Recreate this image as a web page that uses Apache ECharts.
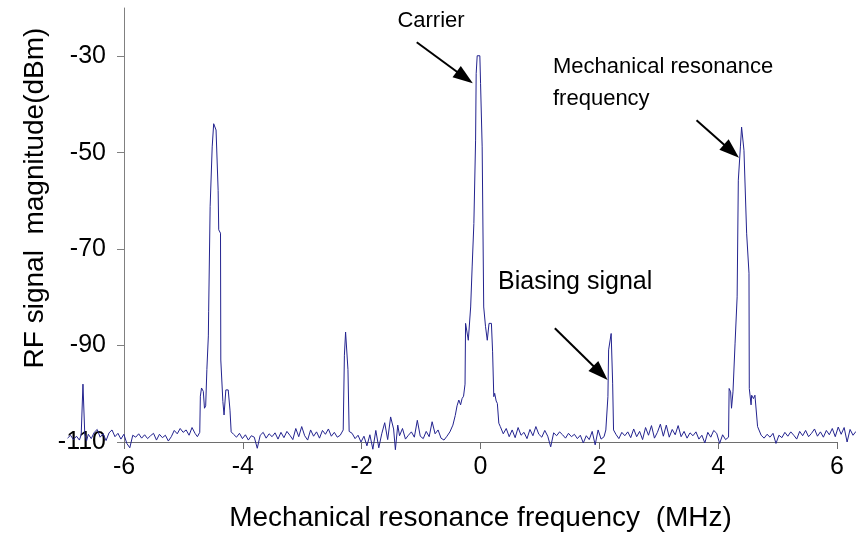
<!DOCTYPE html>
<html>
<head>
<meta charset="utf-8">
<script src="https://cdn.jsdelivr.net/npm/echarts@6/dist/echarts.min.js"></script>
<style>html,body{margin:0;padding:0;background:#fff;}#c{width:856px;height:555px;}</style>
</head>
<body>
<div id="c"></div>
<script>
// ---- data: [frequency (MHz), level (dBm)] ----
const noiseFarLeft = [[-6.95,-109.2],[-6.90,-108.6],[-6.85,-109.5],[-6.80,-108.8],[-6.75,-109.6],[-6.72,-108.5],[-6.69,-98],[-6.66,-108.2],[-6.63,-109.8],[-6.60,-108.4],[-6.55,-109.3],[-6.50,-108.0],[-6.45,-107.4],[-6.40,-109.0],[-6.35,-108.3],[-6.30,-109.7],[-6.25,-108.1],[-6.20,-107.5],[-6.15,-108.9],[-6.10,-108.2],[-6.05,-109.4],[-6.00,-108.4],[-5.95,-110.3],[-5.90,-111.2],[-5.85,-108.6],[-5.80,-109.0],[-5.75,-108.3],[-5.70,-109.2],[-5.65,-108.5],[-5.60,-109.3],[-5.55,-108.7],[-5.50,-108.2],[-5.45,-109.6],[-5.40,-108.4],[-5.35,-109.1],[-5.30,-108.6],[-5.25,-109.8],[-5.20,-108.9],[-5.15,-107.6],[-5.10,-108.3],[-5.05,-107.2],[-5.00,-108.0],[-4.95,-107.5],[-4.90,-108.6],[-4.85,-107.0],[-4.80,-108.2],[-4.76,-108.9]];
const peakLeftMech = [[-4.72,-108.0],[-4.71,-100.5],[-4.69,-98.8],[-4.66,-99.5],[-4.64,-103],[-4.62,-102.5],[-4.60,-95],[-4.575,-88],[-4.57,-83],[-4.545,-61.2],[-4.51,-48.8],[-4.485,-44],[-4.445,-45.3],[-4.41,-57.8],[-4.40,-66],[-4.37,-66.7],[-4.365,-93],[-4.33,-101.6],[-4.31,-104.4],[-4.28,-99.2],[-4.24,-99.2],[-4.21,-103.4],[-4.19,-107.9]];
const noiseLeft = [[-4.15,-108.4],[-4.10,-109.0],[-4.05,-108.2],[-4.00,-109.3],[-3.95,-108.5],[-3.90,-109.6],[-3.85,-108.7],[-3.80,-109.0],[-3.75,-111.3],[-3.70,-108.6],[-3.65,-108.0],[-3.60,-109.2],[-3.55,-108.3],[-3.50,-108.9],[-3.45,-108.1],[-3.40,-109.4],[-3.35,-108.0],[-3.30,-109.1],[-3.25,-107.8],[-3.20,-108.6],[-3.15,-109.5],[-3.10,-107.2],[-3.05,-108.9],[-3.00,-106.8],[-2.95,-108.7],[-2.90,-109.6],[-2.85,-107.5],[-2.80,-108.8],[-2.75,-107.9],[-2.70,-109.2],[-2.65,-107.6],[-2.60,-108.4],[-2.55,-107.3],[-2.50,-108.8],[-2.45,-108.0],[-2.40,-109.0],[-2.35,-108.6]];
const peakLeftBias = [[-2.30,-107.5],[-2.28,-92],[-2.26,-87.2],[-2.24,-87.5],[-2.22,-95],[-2.20,-107.8]];
const noiseMidLeft = [[-2.15,-108.2],[-2.10,-109.3],[-2.05,-108.6],[-2.00,-110.0],[-1.95,-108.8],[-1.90,-110.8],[-1.85,-108.5],[-1.80,-111.5],[-1.75,-107.6],[-1.70,-111.2],[-1.65,-108.3],[-1.60,-106.0],[-1.55,-109.5],[-1.50,-104.8],[-1.45,-107.3],[-1.42,-111.6],[-1.38,-106.5],[-1.35,-108.7],[-1.30,-107.2],[-1.25,-109.4],[-1.20,-108.6],[-1.15,-107.9],[-1.10,-109.0],[-1.05,-105.5],[-1.00,-108.8],[-0.95,-109.3],[-0.90,-107.8],[-0.85,-108.9],[-0.80,-105.8],[-0.75,-108.3],[-0.70,-107.5],[-0.65,-109.2],[-0.60,-109.6],[-0.55,-108.8],[-0.50,-107.9],[-0.45,-106.5]];
const peakCarrier = [[-0.41,-104.5],[-0.38,-102.5],[-0.35,-101.3],[-0.32,-102.3],[-0.295,-101],[-0.27,-100.5],[-0.245,-98],[-0.236,-85.4],[-0.21,-85],[-0.19,-88.9],[-0.17,-89],[-0.15,-82],[-0.125,-73.7],[-0.096,-64.7],[-0.067,-47.4],[-0.057,-33.6],[-0.04,-29.9],[0.005,-29.9],[0.017,-35.7],[0.044,-48.8],[0.07,-82],[0.10,-86],[0.13,-88.9],[0.16,-85.4],[0.20,-85.4],[0.22,-91.3],[0.24,-100.6],[0.255,-99.9],[0.28,-101.5],[0.30,-102],[0.325,-106.1]];
const noiseMidRight = [[0.35,-106.8],[0.40,-108.3],[0.45,-107.2],[0.50,-108.9],[0.55,-107.5],[0.60,-109.1],[0.65,-107.0],[0.70,-108.6],[0.75,-108.0],[0.80,-109.3],[0.85,-107.4],[0.90,-108.7],[0.95,-106.8],[1.00,-108.4],[1.05,-109.0],[1.10,-107.6],[1.15,-108.8],[1.20,-111.0],[1.25,-108.1],[1.30,-108.7],[1.35,-107.9],[1.40,-108.5],[1.45,-109.2],[1.50,-108.2],[1.55,-108.9],[1.60,-108.4],[1.65,-109.3],[1.70,-108.6],[1.75,-110.2],[1.80,-108.7],[1.85,-109.5],[1.90,-107.8],[1.95,-110.6],[2.00,-107.5],[2.05,-109.4],[2.10,-108.9]];
const peakRightBias = [[2.13,-107.5],[2.165,-100.6],[2.177,-90.9],[2.22,-87.5],[2.245,-97.8],[2.26,-107.5]];
const noiseRight = [[2.30,-108.4],[2.35,-109.3],[2.40,-108.0],[2.45,-108.7],[2.50,-107.9],[2.55,-109.1],[2.60,-107.3],[2.65,-108.9],[2.70,-107.8],[2.75,-109.5],[2.80,-107.0],[2.85,-108.6],[2.90,-106.6],[2.95,-109.2],[3.00,-108.0],[3.05,-106.3],[3.10,-108.8],[3.15,-106.5],[3.20,-109.0],[3.25,-107.4],[3.30,-108.5],[3.35,-106.6],[3.40,-108.9],[3.45,-107.8],[3.50,-109.2],[3.55,-108.1],[3.60,-108.7],[3.65,-107.9],[3.70,-109.4],[3.75,-108.6],[3.80,-110.2],[3.85,-108.0],[3.90,-109.0],[3.95,-107.6],[4.00,-108.2],[4.05,-110.3],[4.10,-108.5],[4.15,-109.5],[4.20,-109.0]];
const peakRightMech = [[4.21,-98.9],[4.235,-99.6],[4.25,-103],[4.275,-99.6],[4.31,-89.5],[4.345,-79.9],[4.365,-55.7],[4.40,-48.8],[4.42,-44.7],[4.45,-44.7],[4.46,-49.5],[4.505,-66.7],[4.545,-75],[4.55,-98.9],[4.58,-102.3],[4.59,-100.3],[4.62,-101],[4.645,-100.3],[4.69,-106.8]];
const noiseFarRight = [[4.75,-108.6],[4.80,-109.2],[4.85,-108.4],[4.90,-109.0],[4.95,-108.2],[5.00,-110.3],[5.05,-108.6],[5.10,-109.1],[5.15,-108.0],[5.20,-108.8],[5.25,-107.9],[5.30,-108.6],[5.35,-109.4],[5.40,-107.8],[5.45,-108.7],[5.50,-107.6],[5.55,-108.9],[5.60,-108.2],[5.65,-107.3],[5.70,-108.8],[5.75,-107.9],[5.80,-109.0],[5.85,-107.6],[5.90,-108.5],[5.95,-107.2],[6.00,-108.9],[6.05,-106.9],[6.10,-108.4],[6.15,-107.0],[6.20,-110.0],[6.25,-107.4],[6.30,-108.6],[6.35,-107.8]];

const yTicks = [-110, -90, -70, -50, -30];
const xTicks = [-6, -4, -2, 0, 2, 4, 6];

// annotation arrows in data coordinates: [start, end]
const arrows = [
  [[-1.06, -27.1], [-0.25, -34.4]],
  [[3.66, -43.3], [4.25, -49.7]],
  [[1.27, -86.4], [2.04, -95.7]]
];

const spectrum = [].concat(noiseFarLeft, peakLeftMech, noiseLeft, peakLeftBias, noiseMidLeft,
  peakCarrier, noiseMidRight, peakRightBias, noiseRight, peakRightMech, noiseFarRight);

// layout: axis frame -6..6 MHz ; data frame extends beyond it (spectrum not clipped)
const axLeft = 124, axWidth = 713, axTop = 8, axHeight = 434;
const pxPerMHz = axWidth / 12;
const dataMin = -6.95, dataMax = 6.35;

const chart = echarts.init(document.getElementById('c'), null, {renderer: 'canvas'});
const FONT = 'Liberation Sans, Arial, sans-serif';
chart.setOption({
  animation: false,
  backgroundColor: '#ffffff',
  grid: [
    {left: axLeft, top: axTop, width: axWidth, height: axHeight, containLabel: false},
    {left: axLeft + (dataMin + 6) * pxPerMHz, top: axTop, width: (dataMax - dataMin) * pxPerMHz, height: axHeight, containLabel: false}
  ],
  xAxis: [{
    gridIndex: 0, type: 'value', min: -6, max: 6, interval: 2,
    name: 'Mechanical resonance frequency  (MHz)',
    nameLocation: 'middle', nameGap: 62,
    nameTextStyle: {fontFamily: FONT, fontSize: 28, color: '#000'},
    axisLine: {show: true, onZero: false, lineStyle: {color: '#6e6e6e', width: 1}},
    axisTick: {show: true, length: 7, lineStyle: {color: '#6e6e6e'}, customValues: xTicks},
    axisLabel: {fontFamily: FONT, fontSize: 25, color: '#000', margin: 13, customValues: xTicks},
    splitLine: {show: false}
  }, {
    gridIndex: 1, type: 'value', min: dataMin, max: dataMax, show: false, splitLine: {show: false}
  }],
  yAxis: [{
    gridIndex: 0, type: 'value', min: -110, max: -20, interval: 20,
    axisLine: {show: true, onZero: false, lineStyle: {color: '#808080', width: 1}},
    axisTick: {show: true, length: 7, lineStyle: {color: '#808080'}, customValues: yTicks},
    axisLabel: {fontFamily: FONT, fontSize: 25, color: '#000', margin: 18, customValues: yTicks},
    splitLine: {show: false}
  }, {
    gridIndex: 1, type: 'value', min: -110, max: -20, show: false, splitLine: {show: false}
  }],
  graphic: [
    {type: 'text', x: 35, y: 198, rotation: Math.PI / 2,
      style: {text: 'RF signal  magnitude(dBm)', font: '28px ' + FONT, fill: '#000', textAlign: 'center', textVerticalAlign: 'middle'}},
    {type: 'text', x: 431, y: 21, style: {text: 'Carrier', font: '22px ' + FONT, fill: '#000', textAlign: 'center', textVerticalAlign: 'middle'}},
    {type: 'text', x: 553, y: 67, style: {text: 'Mechanical resonance', font: '22px ' + FONT, fill: '#000', textAlign: 'left', textVerticalAlign: 'middle'}},
    {type: 'text', x: 553, y: 99, style: {text: 'frequency', font: '22px ' + FONT, fill: '#000', textAlign: 'left', textVerticalAlign: 'middle'}},
    {type: 'text', x: 498, y: 282, style: {text: 'Biasing signal', font: '25px ' + FONT, fill: '#000', textAlign: 'left', textVerticalAlign: 'middle'}}
  ],
  series: [{
    type: 'line',
    xAxisIndex: 1, yAxisIndex: 1,
    data: spectrum,
    showSymbol: false,
    clip: false,
    lineStyle: {color: '#23238f', width: 1},
    markLine: {
      silent: true,
      symbol: ['none', 'triangle'],
      symbolSize: [14, 20],
      label: {show: false},
      lineStyle: {color: '#000', width: 2, type: 'solid'},
      data: arrows.map(a => [{coord: a[0]}, {coord: a[1]}])
    }
  }]
});
</script>
</body>
</html>
